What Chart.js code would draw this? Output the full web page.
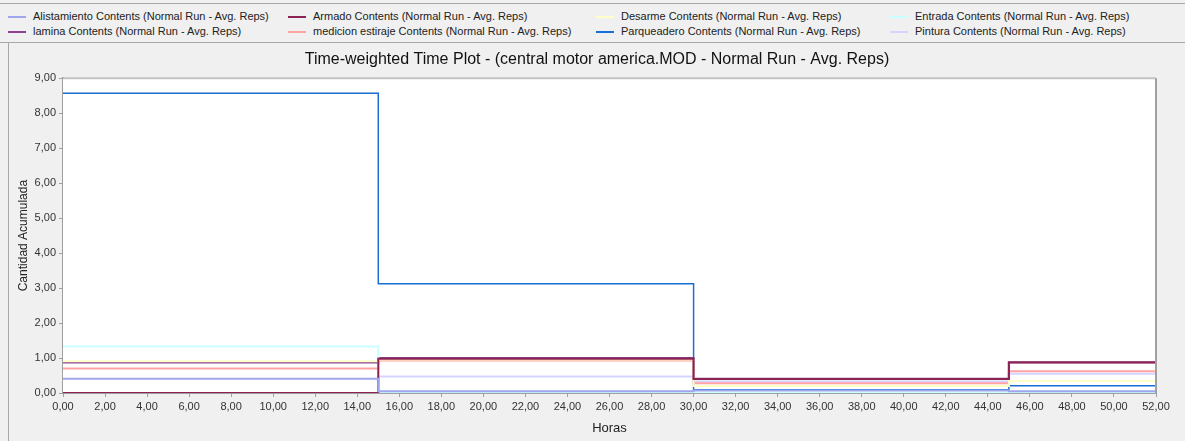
<!DOCTYPE html>
<html>
<head>
<meta charset="utf-8">
<script src="https://cdn.jsdelivr.net/npm/chart.js@4.4.1/dist/chart.umd.min.js"></script>
<style>
  body { margin: 0; background: #f0f0f0; font-family: "Liberation Sans", Arial, sans-serif; }
  #page { position: relative; width: 1185px; height: 441px; overflow: hidden; background: #f0f0f0; }
  #legend { position: absolute; left: 0; top: 3px; width: 1185px; height: 38px;
            border-top: 1px solid #a8a8a8; border-bottom: 1px solid #a8a8a8; }
  .item { position: absolute; font-size: 11px; color: #222; white-space: nowrap; line-height: 13px; height: 13px; }
  .item span.swatch { position: absolute; left: 0; top: 6px; width: 18px; height: 2px; }
  .item span.txt { position: absolute; left: 25px; top: 0; }
  #panel { position: absolute; left: 8px; top: 43px; width: 1177px; height: 398px; border-left: 1px solid #a8a8a8; }
</style>
</head>
<body>
<div id="page">
  <div id="legend"></div>
  <div id="panel"><canvas id="chart" width="1176" height="398"></canvas></div>
</div>
<script>
// change points of the step plot (hours)
const hours = [0, 15, 30, 45, 52];

const seriesNames = [
  'Alistamiento Contents (Normal Run - Avg. Reps)',
  'Armado Contents (Normal Run - Avg. Reps)',
  'Desarme Contents (Normal Run - Avg. Reps)',
  'Entrada Contents (Normal Run - Avg. Reps)',
  'lamina Contents (Normal Run - Avg. Reps)',
  'medicion estiraje Contents (Normal Run - Avg. Reps)',
  'Parqueadero Contents (Normal Run - Avg. Reps)',
  'Pintura Contents (Normal Run - Avg. Reps)'
];
const seriesColors = ['#9fa6ee', '#8b2252', '#ffffc8', '#c8ffff', '#8e4293', '#ffa3a3', '#1a6fd6', '#d4d4ff'];

// values for each interval: 0-15, 15-30, 30-45, 45-52 (last repeated at 52)
const alistamiento = [0.41, 0.05, 0.07, 0.05, 0.05];
const armado       = [0.00, 0.98, 0.40, 0.87, 0.87];
const desarme      = [0.91, 0.96, 0.20, 0.34, 0.34];
const entrada      = [1.33, 0.00, 0.01, 0.00, 0.00];
const lamina       = [0.87, 1.00, 0.41, 0.88, 0.88];
const medicion     = [0.70, 0.93, 0.28, 0.62, 0.62];
const parqueadero  = [8.57, 3.12, 0.09, 0.21, 0.21];
const pintura      = [0.00, 0.47, 0.33, 0.55, 0.55];

const seriesValues = [alistamiento, armado, desarme, entrada, lamina, medicion, parqueadero, pintura];

const yTicks = [0, 1, 2, 3, 4, 5, 6, 7, 8, 9];
const xMax = 52;

// legend: 4 columns, 2 rows (row-major order)
const legendCols = [8, 288, 596, 890];
const legendRows = [6, 21];
const legendEl = document.getElementById('legend');
seriesNames.forEach((name, i) => {
  const d = document.createElement('div');
  d.className = 'item';
  d.style.left = legendCols[i % 4] + 'px';
  d.style.top = legendRows[Math.floor(i / 4)] + 'px';
  const sw = document.createElement('span');
  sw.className = 'swatch';
  sw.style.backgroundColor = seriesColors[i];
  const tx = document.createElement('span');
  tx.className = 'txt';
  tx.textContent = name;
  d.appendChild(sw);
  d.appendChild(tx);
  legendEl.appendChild(d);
});

const fmt = v => Number(v).toFixed(2).replace('.', ',');
const fontFam = '"Liberation Sans", Arial, sans-serif';

const plotFrame = {
  id: 'plotFrame',
  beforeDatasetsDraw(chart) {
    const { ctx, chartArea: a } = chart;
    ctx.save();
    ctx.fillStyle = '#ffffff';
    ctx.fillRect(a.left, a.top, a.right - a.left, a.bottom - a.top);
    ctx.restore();
  },
  afterDraw(chart) {
    const { ctx, chartArea: a } = chart;
    ctx.save();
    ctx.strokeStyle = '#c4c4c4';
    ctx.lineWidth = 2;
    ctx.beginPath();
    ctx.moveTo(a.left, a.top);
    ctx.lineTo(a.right, a.top);
    ctx.stroke();
    ctx.strokeStyle = '#a0a0a0';
    ctx.beginPath();
    ctx.moveTo(a.right, a.top);
    ctx.lineTo(a.right, a.bottom);
    ctx.stroke();
    ctx.restore();
  }
};

new Chart(document.getElementById('chart'), {
  type: 'line',
  data: {
    datasets: seriesNames.map((name, i) => ({
      label: name,
      data: hours.map((h, j) => ({ x: h, y: seriesValues[i][j] })),
      borderColor: seriesColors[i],
      borderWidth: i === 6 ? 1.5 : 2,
      stepped: true,
      pointRadius: 0,
      fill: false
    }))
  },
  options: {
    responsive: false,
    devicePixelRatio: 1,
    animation: false,
    layout: { padding: 0 },
    plugins: {
      legend: { display: false },
      tooltip: { enabled: false },
      title: {
        display: true,
        text: 'Time-weighted Time Plot - (central motor america.MOD - Normal Run - Avg. Reps)',
        color: '#111',
        font: { family: fontFam, size: 16, weight: 'normal' },
        padding: { top: 7, bottom: 9 }
      }
    },
    scales: {
      x: {
        type: 'linear',
        min: 0,
        max: xMax,
        afterFit: s => { s.height = 48; },
        grid: { drawOnChartArea: false, drawTicks: true, tickLength: 4, color: '#a0a0a0' },
        border: { display: true, color: '#a0a0a0', width: 2 },
        ticks: { stepSize: 2, padding: 3, maxRotation: 0, autoSkip: false, color: '#333',
                 font: { family: fontFam, size: 11 }, callback: v => fmt(v) },
        title: { display: true, text: 'Horas', color: '#222', padding: { top: 0, bottom: 5 },
                 font: { family: fontFam, size: 13 } }
      },
      y: {
        min: 0,
        max: yTicks[yTicks.length - 1],
        afterFit: s => { s.width = 54; },
        afterBuildTicks: s => { s.ticks = yTicks.map(v => ({ value: v })); },
        grid: { drawOnChartArea: false, drawTicks: true, tickLength: 4, color: '#a0a0a0' },
        border: { display: true, color: '#a0a0a0', width: 2 },
        ticks: { padding: 3, color: '#333',
                 font: { family: fontFam, size: 11 }, callback: v => fmt(v) },
        title: { display: true, text: 'Cantidad Acumulada', color: '#222', padding: { top: 7, bottom: 0 },
                 font: { family: fontFam, size: 12 } }
      },
      // empty right-hand axis that only reserves the margin right of the plot
      yRight: {
        position: 'right',
        min: 0,
        max: yTicks[yTicks.length - 1],
        afterFit: s => { s.width = 29; },
        grid: { display: false },
        border: { display: false },
        ticks: { display: false }
      }
    }
  },
  plugins: [plotFrame]
});
</script>
</body>
</html>
